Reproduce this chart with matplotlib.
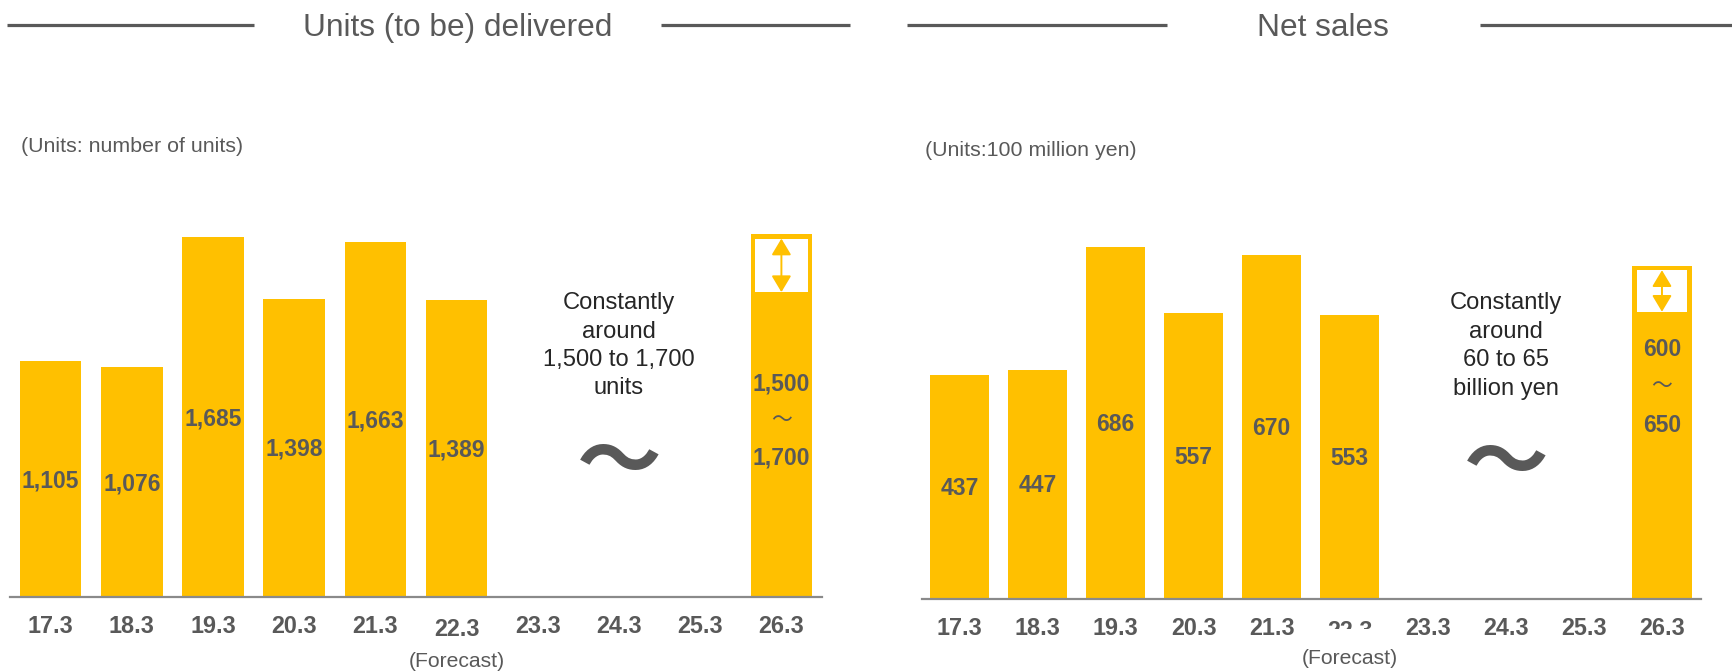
import matplotlib
matplotlib.use("Agg")
import matplotlib.pyplot as plt
from matplotlib.patches import Rectangle
from matplotlib.lines import Line2D
from matplotlib.transforms import offset_copy, Bbox, TransformedBbox

# ---- data -------------------------------------------------------------
fiscal_years = ["17.3", "18.3", "19.3", "20.3", "21.3", "22.3",
                "23.3", "24.3", "25.3", "26.3"]

units_actual = [1105, 1076, 1685, 1398, 1663, 1389]      # 17.3 - 22.3
units_target = (1500, 1700)                               # 26.3 range

sales_actual = [437, 447, 686, 557, 670, 553]             # 100 million yen
sales_target = (600, 650)

units_note = ["Constantly", "around", "1,500 to 1,700", "units"]
sales_note = ["Constantly", "around", "60 to 65", "billion yen"]

# ---- style ------------------------------------------------------------
W, H, DPI = 1733, 672, 100
GOLD = "#FFC000"
GREY = "#595959"
AXIS = "#8A8A8A"
DARK = "#262626"
FONT = "Liberation Sans"
BAR_W = 0.76

plt.rcParams["font.family"] = [FONT, "DejaVu Sans"]

fig = plt.figure(figsize=(W / DPI, H / DPI), dpi=DPI)
fig.patch.set_facecolor("white")


def fx(x):
    return x / W


def fy(y):
    return 1 - y / H


def make_axes(left, base, width, height, xlim, ylim):
    ax = fig.add_axes([fx(left), fy(base), width / W, height / H])
    ax.set_xlim(*xlim)
    ax.set_ylim(*ylim)
    for side in ("top", "left", "right"):
        ax.spines[side].set_visible(False)
    ax.spines["bottom"].set_color(AXIS)
    ax.spines["bottom"].set_linewidth(1.6)
    ax.spines["bottom"].set_zorder(4)
    ax.set_xticks([])
    ax.set_yticks([])
    ax.patch.set_alpha(0)
    return ax


def header(title, cx, line_spans, y=25, baseline=36):
    fig.text(fx(cx), fy(baseline), title, ha="center", va="baseline",
             fontsize=22.8, color=GREY)
    for x0, x1 in line_spans:
        fig.add_artist(Line2D([fx(x0), fx(x1)], [fy(y), fy(y)],
                              color=GREY, lw=2.3, solid_capstyle="butt"))


def at_px(ax, dy):
    """x in data units, y offset in pixels from the axis line."""
    return offset_copy(ax.get_xaxis_transform(), fig=fig, x=0, y=dy,
                       units="dots")


def draw_panel(ax, actual, target, note_lines, depth, frac, gap,
               forecast_dy, odd_dy, odd_clip, tilde_y):
    n = len(actual)
    xi = len(fiscal_years) - 1
    ax.bar(range(n), actual, width=BAR_W, color=GOLD, zorder=2)
    ax.bar(xi, target[1], width=BAR_W, color=GOLD, zorder=2)

    # values in the middle of each bar
    for i, v in enumerate(actual):
        ax.annotate(f"{v:,}", xy=(i, v / 2), xytext=(0, -8),
                    textcoords="offset pixels", ha="center", va="baseline",
                    fontsize=16.5, fontweight="bold", color=GREY, zorder=5)

    # range indicator at the top of the forecast bar
    bb = ax.get_window_extent()
    x0, x1 = ax.get_xlim()
    y0, y1 = ax.get_ylim()
    ppx = bb.width / (x1 - x0)
    ppy = bb.height / (y1 - y0)
    pad = 4.5
    top = target[1]
    box_top = top - pad / ppy
    box_bot = top - depth / ppy
    ax.add_patch(Rectangle((xi - BAR_W / 2 + pad / ppx, box_bot),
                           BAR_W - 2 * pad / ppx, box_top - box_bot,
                           facecolor="white", edgecolor="none", zorder=3))
    ax.annotate("", xy=(xi, box_top), xytext=(xi, box_bot),
                arrowprops=dict(arrowstyle="<|-|>,head_length=0.4,head_width=0.24",
                                color=GOLD, lw=1.4, mutation_scale=25,
                                shrinkA=0, shrinkB=0), zorder=4)

    # range label inside the forecast bar
    ly = target[1] * frac
    ax.annotate(f"{target[0]:,}", xy=(xi, ly), xytext=(0, gap - 8),
                textcoords="offset pixels", ha="center", va="baseline",
                fontsize=16.5, fontweight="bold", color=GREY, zorder=5)
    ax.annotate("～", xy=(xi, ly), xytext=(0, 0), textcoords="offset pixels",
                ha="center", va="center", fontsize=15, color=GREY,
                family=["Noto Sans CJK JP"], zorder=5)
    ax.annotate(f"{target[1]:,}", xy=(xi, ly), xytext=(0, -gap - 8),
                textcoords="offset pixels", ha="center", va="baseline",
                fontsize=16.5, fontweight="bold", color=GREY, zorder=5)

    # fiscal-year labels under the axis
    for i, lab in enumerate(fiscal_years):
        dy = odd_dy if i == 5 else -36
        t = ax.text(i, 0, lab, ha="center", va="baseline", fontsize=16.8,
                    fontweight="bold", color=GREY, transform=at_px(ax, dy))
        if i == 5 and odd_clip is not None:
            t.set_clip_box(TransformedBbox(
                Bbox([[0, (H - odd_clip) / DPI], [W / DPI, H / DPI]]),
                fig.dpi_scale_trans))
            t.set_clip_on(True)
        else:
            t.set_clip_on(False)
    ax.text(5, 0, "(Forecast)", ha="center", va="center", fontsize=15.2,
            color=GREY, clip_on=False, transform=at_px(ax, forecast_dy))

    # outlook note and wave mark over the gap years
    base_px = ax.get_window_extent().y0
    for line, b in zip(note_lines, [309, 337.5, 366, 394.5]):
        ax.text(7.0, 0, line, ha="center", va="baseline", fontsize=17.1,
                color=DARK, transform=at_px(ax, (H - b) - base_px))
    ax.text(7.0, 0, "～", ha="center", va="center", fontsize=61,
            fontweight="bold", color=GREY, family=["Noto Sans CJK JP"],
            transform=at_px(ax, (H - tilde_y) - base_px))


# ---- left panel: units delivered ---------------------------------------
header("Units (to be) delivered", 458, [(7, 254), (661, 850)])
fig.text(fx(21), fy(152), "(Units: number of units)", ha="left",
         va="baseline", fontsize=15.4, color=GREY)
ax1 = make_axes(10, 597, 812, 1750 * 0.21347, (-0.5, 9.5), (0, 1750))
draw_panel(ax1, units_actual, units_target, units_note,
           depth=58, frac=0.488, gap=37, forecast_dy=-64.5,
           odd_dy=-39, odd_clip=None, tilde_y=464)

# ---- right panel: net sales ---------------------------------------------
header("Net sales", 1322.5, [(907, 1167), (1480, 1733)])
fig.text(fx(925), fy(156), "(Units:100 million yen)", ha="left",
         va="baseline", fontsize=15.4, color=GREY)
ax2 = make_axes(921.9, 599, 779.1, 700 * 0.5127, (-0.48, 9.5), (0, 700))
draw_panel(ax2, sales_actual, sales_target, sales_note,
           depth=46, frac=0.64, gap=38, forecast_dy=-60,
           odd_dy=-39.5, odd_clip=628.5, tilde_y=464.5)

fig.savefig("out.png", dpi=DPI, facecolor="white")
